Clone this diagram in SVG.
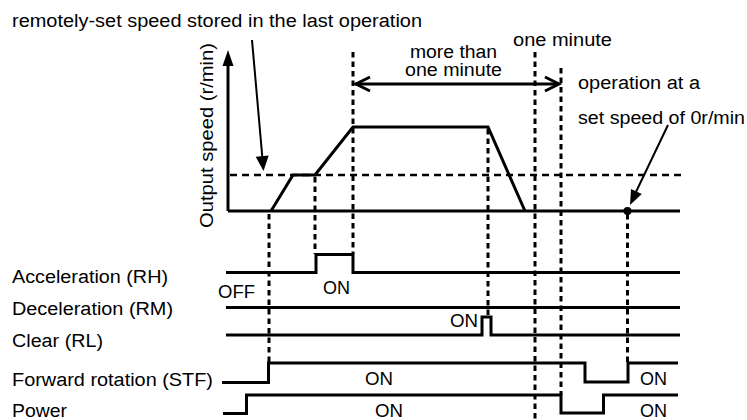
<svg xmlns="http://www.w3.org/2000/svg" width="747" height="420" viewBox="0 0 747 420">
<style>
text{font-family:"Liberation Sans",Arial,sans-serif;font-size:18px;fill:#000}
.sig{fill:none;stroke:#000;stroke-width:3;stroke-linejoin:miter}
.dash{fill:none;stroke:#000;stroke-width:3;stroke-dasharray:5.5,4}
.hdash{fill:none;stroke:#000;stroke-width:2.6;stroke-dasharray:7,5}
.thin{fill:none;stroke:#000;stroke-width:2}
</style>
<rect width="747" height="420" fill="#fff"/>
<g id="labels">
<text x="12" y="26.5" textLength="410" lengthAdjust="spacingAndGlyphs">remotely-set speed stored in the last operation</text>
<text transform="translate(212.5,228) rotate(-90)" textLength="185" lengthAdjust="spacingAndGlyphs">Output speed (r/min)</text>
<text x="410" y="57.5" textLength="87" lengthAdjust="spacingAndGlyphs">more than</text>
<text x="405" y="76" textLength="97" lengthAdjust="spacingAndGlyphs">one minute</text>
<text x="513" y="45.5" textLength="99" lengthAdjust="spacingAndGlyphs">one minute</text>
<text x="578" y="89" textLength="122" lengthAdjust="spacingAndGlyphs">operation at a</text>
<text x="578" y="124" textLength="167" lengthAdjust="spacingAndGlyphs">set speed of 0r/min</text>
<text x="12" y="283" textLength="156" lengthAdjust="spacingAndGlyphs">Acceleration (RH)</text>
<text x="12" y="315" textLength="161" lengthAdjust="spacingAndGlyphs">Deceleration (RM)</text>
<text x="12" y="347" textLength="91" lengthAdjust="spacingAndGlyphs">Clear (RL)</text>
<text x="12" y="386" textLength="201" lengthAdjust="spacingAndGlyphs">Forward rotation (STF)</text>
<text x="12" y="417" textLength="55" lengthAdjust="spacingAndGlyphs">Power</text>
<text x="218" y="298" textLength="37" lengthAdjust="spacingAndGlyphs">OFF</text>
<text x="323" y="294" textLength="27" lengthAdjust="spacingAndGlyphs">ON</text>
<text x="450" y="327" textLength="28" lengthAdjust="spacingAndGlyphs">ON</text>
<text x="365" y="384.5" textLength="28" lengthAdjust="spacingAndGlyphs">ON</text>
<text x="640" y="385" textLength="27" lengthAdjust="spacingAndGlyphs">ON</text>
<text x="375" y="417" textLength="28" lengthAdjust="spacingAndGlyphs">ON</text>
<text x="640" y="417" textLength="27" lengthAdjust="spacingAndGlyphs">ON</text>
</g>
<g id="speed-chart">
<line class="sig" x1="228" y1="211" x2="228" y2="64"/>
<polygon points="228,50 222.5,66 233.5,66" fill="#000"/>
<line class="sig" x1="228" y1="211" x2="680" y2="211"/>
<line class="hdash" x1="230" y1="175" x2="683" y2="175"/>
<polyline class="sig" points="271,211 293,175 315,175 353,127 488,127 525,211"/>
<circle cx="627.5" cy="211" r="4" fill="#000"/>
</g>
<g id="signals">
<polyline id="rh" class="sig" points="226,272.5 316,272.5 316,254.5 353,254.5 353,272.5 680,272.5"/>
<polyline id="rm" class="sig" points="226,307.5 680,307.5"/>
<polyline id="rl" class="sig" points="226,335 482,335 482,317 491,317 491,335 680,335"/>
<polyline id="stf" class="sig" points="222,382.5 268.5,382.5 268.5,363 585,363 585,382 628,382 628,363 678,363"/>
<polyline id="power" class="sig" points="223,413.5 246.5,413.5 246.5,395 561,395 561,413 603.5,413 603.5,395 678,395"/>
</g>
<g id="connectors">
<line class="dash" x1="269" y1="214" x2="269" y2="362"/>
<line class="dash" x1="315" y1="177" x2="315" y2="254"/>
<line class="dash" x1="353" y1="52" x2="353" y2="254"/>
<line class="dash" x1="488" y1="129" x2="488" y2="317"/>
<line class="dash" x1="535" y1="52" x2="535" y2="420"/>
<line class="dash" x1="561" y1="68" x2="561" y2="395"/>
<line class="dash" x1="627.5" y1="214" x2="627.5" y2="362"/>
<line class="sig" x1="355" y1="84" x2="559" y2="84"/>
<polyline class="sig" stroke-width="3.5" points="370,77 356,84 370,91"/>
<polyline class="sig" stroke-width="3.5" points="545,77 559,84 545,91"/>
<line class="thin" x1="252" y1="40" x2="262.4" y2="158"/>
<polygon points="263.5,171 268.7,155.5 255.7,156.7" fill="#000"/>
<line class="thin" x1="668" y1="125" x2="635" y2="194"/>
<polygon points="630,205 641.8,194.1 631,188.9" fill="#000"/>
</g>
</svg>
